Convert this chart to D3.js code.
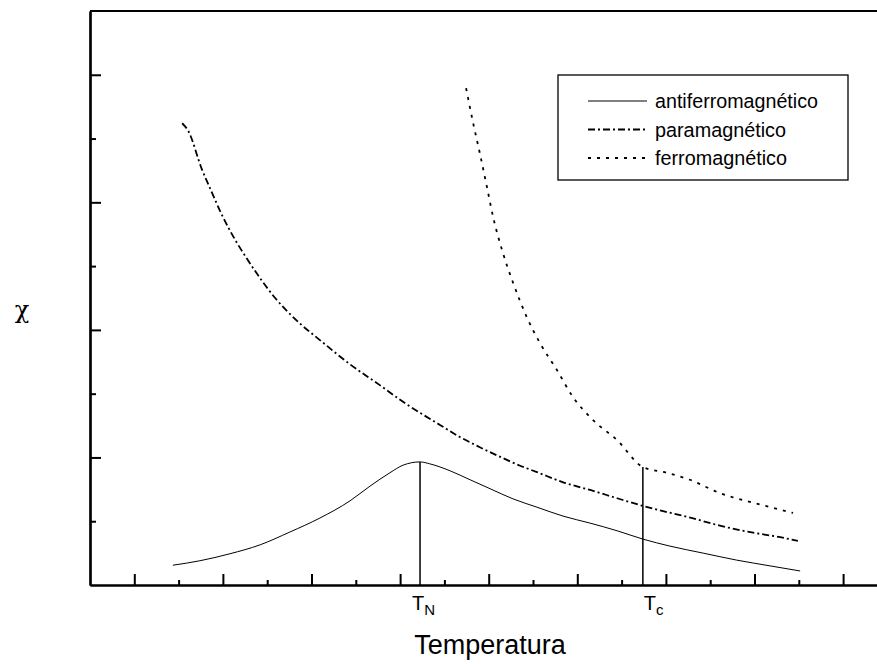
<!DOCTYPE html>
<html lang="es">
<head>
<meta charset="UTF-8">
<title>Susceptibilidad vs Temperatura</title>
<script src="https://d3js.org/d3.v7.min.js"></script>
<style>
  body { margin: 0; background: #fff; }
  svg { display: block; font-family: "Liberation Sans", Arial, sans-serif; }
</style>
</head>
<body>
<svg width="877" height="664"></svg>
<script>
  // [temperatura, chi] (arbitrary units, 1 unit = one minor tick)
  const antiferro = [
    [1.87, 0.31], [2.48, 0.38], [3.16, 0.49], [3.84, 0.63], [4.51, 0.83],
    [5.19, 1.05], [5.87, 1.32], [6.32, 1.55], [6.77, 1.76], [7.07, 1.88],
    [7.45, 1.93], [7.67, 1.90], [8.13, 1.79], [8.58, 1.65], [9.03, 1.51],
    [9.55, 1.35], [10.09, 1.22], [10.68, 1.08], [11.29, 0.97], [11.90, 0.85],
    [12.48, 0.72], [13.09, 0.61], [13.84, 0.50], [14.60, 0.39], [15.35, 0.30],
    [16.03, 0.22]
  ];
  const para = [
    [2.08, 7.24], [2.21, 7.13], [2.53, 6.51], [2.71, 6.22], [2.98, 5.80],
    [3.27, 5.42], [3.54, 5.12], [3.84, 4.81], [4.18, 4.50], [4.74, 4.10],
    [5.19, 3.84], [5.87, 3.46], [6.55, 3.13], [7.05, 2.88], [7.45, 2.70],
    [7.90, 2.51], [8.35, 2.32], [8.80, 2.16], [9.32, 1.99], [9.71, 1.87],
    [10.09, 1.77], [10.68, 1.61], [11.29, 1.49], [11.90, 1.36], [12.48, 1.24],
    [12.80, 1.18], [13.48, 1.07], [14.22, 0.93], [14.97, 0.82], [15.58, 0.75],
    [15.98, 0.69]
  ];
  const ferro = [
    [8.49, 7.79], [8.65, 7.24], [8.80, 6.77], [8.96, 6.24], [9.10, 5.77],
    [9.32, 5.21], [9.55, 4.74], [9.86, 4.20], [10.16, 3.79], [10.54, 3.37],
    [10.90, 2.95], [11.35, 2.59], [11.90, 2.27], [12.48, 1.85], [13.02, 1.76],
    [13.54, 1.65], [14.22, 1.44], [14.97, 1.29], [15.87, 1.13]
  ];
  const critical = [
    { sub: "N", t: 7.45, chi: 1.93 },
    { sub: "c", t: 12.48, chi: 1.85 }
  ];
  const seriesNames = ["antiferromagnético", "paramagnético", "ferromagnético"];
  const xMajor = [1, 3, 5, 7, 9, 11, 13, 15, 17];
  const xMinor = [2, 4, 6, 8, 10, 12, 14, 16];
  const yMajor = [2, 4, 6, 8];
  const yMinor = [1, 3, 5, 7];

  const svg = d3.select("svg");
  const x = d3.scaleLinear().domain([0, 18]).range([90, 887.4]);
  const y = d3.scaleLinear().domain([0, 9]).range([585, 11]);

  const styles = [
    { dash: null, width: 1 },
    { dash: "7,3,2,3", width: 1.8 },
    { dash: "3,6", width: 1.8 }
  ];
  const legendWidths = [163, 131, 132];
  const labelShift = [-8, 1];
  const seriesData = [antiferro, para, ferro];

  // axes, ticks pointing inwards
  function styleAxis(g) {
    g.selectAll("path.domain").attr("stroke-width", 2.2);
    g.selectAll(".tick line").attr("stroke-width", 2);
  }
  svg.append("g").attr("transform", `translate(0,${y(0)})`)
    .call(d3.axisBottom(x).tickValues(xMajor).tickSize(-11).tickSizeOuter(0).tickFormat(""))
    .call(styleAxis);
  svg.append("g").attr("transform", `translate(0,${y(0)})`)
    .call(d3.axisBottom(x).tickValues(xMinor).tickSize(-5).tickSizeOuter(0).tickFormat(""))
    .call(styleAxis);
  svg.append("g").attr("transform", `translate(${x(0)},0)`)
    .call(d3.axisLeft(y).tickValues(yMajor).tickSize(-11).tickSizeOuter(0).tickFormat(""))
    .call(styleAxis);
  svg.append("g").attr("transform", `translate(${x(0)},0)`)
    .call(d3.axisLeft(y).tickValues(yMinor).tickSize(-6).tickSizeOuter(0).tickFormat(""))
    .call(styleAxis);
  svg.append("line")
    .attr("x1", x(0)).attr("x2", x(18))
    .attr("y1", y(9)).attr("y2", y(9))
    .attr("stroke", "#000").attr("stroke-width", 2.2);

  // curves
  const line = d3.line().x(d => x(d[0])).y(d => y(d[1])).curve(d3.curveMonotoneX);
  seriesData.forEach((data, i) => {
    svg.append("path")
      .datum(data)
      .attr("d", line)
      .attr("fill", "none")
      .attr("stroke", "#000")
      .attr("stroke-width", styles[i].width)
      .attr("stroke-dasharray", styles[i].dash);
  });

  // T_N and T_c markers
  critical.forEach((c, i) => {
    svg.append("line")
      .attr("x1", x(c.t)).attr("x2", x(c.t))
      .attr("y1", y(0)).attr("y2", y(c.chi))
      .attr("stroke", "#000").attr("stroke-width", 1.5);
    const lbl = svg.append("text")
      .attr("x", x(c.t) + labelShift[i]).attr("y", 610)
      .attr("font-size", 20);
    lbl.append("tspan").text("T");
    lbl.append("tspan").attr("dy", 5).attr("font-size", 15).text(c.sub);
  });

  // axis titles
  svg.append("text")
    .attr("x", 490).attr("y", 654)
    .attr("text-anchor", "middle")
    .attr("font-size", 27)
    .text("Temperatura");
  svg.append("text")
    .attr("x", 22).attr("y", 318)
    .attr("text-anchor", "middle")
    .attr("font-family", "'DejaVu Serif', serif")
    .attr("font-size", 24)
    .text("χ");

  // legend
  const legend = svg.append("g");
  legend.append("rect")
    .attr("x", 558).attr("y", 75).attr("width", 290).attr("height", 105)
    .attr("fill", "#fff").attr("stroke", "#000").attr("stroke-width", 1.3);
  seriesNames.forEach((name, i) => {
    const ly = 101 + i * 28.5;
    legend.append("line")
      .attr("x1", 588).attr("x2", 647).attr("y1", ly).attr("y2", ly)
      .attr("stroke", "#000")
      .attr("stroke-width", styles[i].width)
      .attr("stroke-dasharray", styles[i].dash);
    legend.append("text")
      .attr("x", 655).attr("y", ly + 7)
      .attr("font-size", 20.5)
      .attr("textLength", legendWidths[i])
      .attr("lengthAdjust", "spacingAndGlyphs")
      .text(name);
  });
</script>
</body>
</html>
